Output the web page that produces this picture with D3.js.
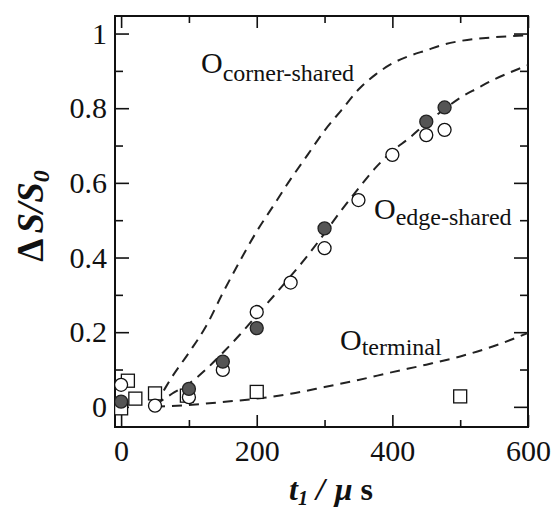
<!DOCTYPE html>
<html><head><meta charset="utf-8">
<script src="https://cdn.jsdelivr.net/npm/d3@7/dist/d3.min.js"></script></head>
<body style="margin:0">
<script>
// data (t in microseconds, dS/S0)
const openT   = [0, 50, 100, 150, 200, 250, 300, 350, 400, 450, 477];
const openV   = [0.059, 0.003, 0.026, 0.099, 0.254, 0.333, 0.425, 0.554, 0.675, 0.728, 0.742];
const filledT = [0, 100, 150, 200, 300, 450, 477];
const filledV = [0.014, 0.048, 0.121, 0.211, 0.478, 0.764, 0.802];
const squareT = [0, 10, 21, 50, 97, 200, 500];
const squareV = [-0.004, 0.07, 0.022, 0.036, 0.03, 0.04, 0.028];

// model curves (dashed)
const cornerT = [50, 60, 75, 100, 125, 150, 175, 200, 225, 250, 275, 300, 325, 350, 375, 400, 425, 450, 475, 500, 550, 600];
const cornerV = [0.005, 0.035, 0.08, 0.145, 0.215, 0.305, 0.39, 0.47, 0.54, 0.61, 0.675, 0.74, 0.795, 0.85, 0.89, 0.92, 0.94, 0.955, 0.97, 0.98, 0.99, 0.995];
const edgeT = [50, 75, 100, 125, 150, 175, 200, 225, 250, 275, 300, 325, 350, 375, 400, 425, 450, 475, 500, 525, 550, 575, 600];
const edgeV = [0.005, 0.035, 0.062, 0.1, 0.145, 0.193, 0.245, 0.297, 0.35, 0.405, 0.465, 0.527, 0.585, 0.64, 0.685, 0.72, 0.76, 0.795, 0.828, 0.853, 0.877, 0.897, 0.915];
const termT = [50, 100, 150, 200, 250, 300, 350, 400, 450, 500, 550, 600];
const termV = [0.0, 0.005, 0.013, 0.022, 0.035, 0.053, 0.072, 0.093, 0.113, 0.135, 0.163, 0.198];

const xMajor = [0, 200, 400, 600];
const xMinor = [100, 300, 500];
const yMajor = [0, 0.2, 0.4, 0.6, 0.8, 1];
const yMinor = [0.1, 0.3, 0.5, 0.7, 0.9];

const width = 558, height = 510;
const margin = {top: 16, right: 30, bottom: 83, left: 115};
const innerW = width - margin.left - margin.right;
const innerH = height - margin.top - margin.bottom;
const FONT = 'Liberation Serif';

const svg = d3.select('body').append('svg').attr('width', width).attr('height', height);
const g = svg.append('g').attr('transform', 'translate(' + margin.left + ',' + margin.top + ')');

const x = d3.scaleLinear().domain([-9, 600]).range([0, innerW]);
const y = d3.scaleLinear().domain([-0.054, 1.047]).range([innerH, 0]);

function serifText(sel, size) {
  return sel.attr('font-family', FONT).style('font-family', '"' + FONT + '"')
    .attr('font-size', size).attr('fill', '#111');
}

//axes with inward ticks on all four sides
function addAxis(axis, tr, vals, size, labels) {
  const a = g.append('g').attr('transform', tr)
    .call(axis.tickValues(vals).tickSize(-size).tickSizeOuter(0).tickPadding(labels ? 13 : 0)
      .tickFormat(labels ? d3.format('') : () => ''));
  a.attr('font-family', FONT).attr('font-size', 30);
  a.select('.domain').remove();
  a.selectAll('line').attr('stroke', '#111').attr('stroke-width', 1.6);
  serifText(a.selectAll('text'), 30);
  return a;
}
addAxis(d3.axisBottom(x), 'translate(0,' + innerH + ')', xMajor, 12, true);
addAxis(d3.axisBottom(x), 'translate(0,' + innerH + ')', xMinor, 7, false);
addAxis(d3.axisTop(x), 'translate(0,0)', xMajor, 12, false);
addAxis(d3.axisTop(x), 'translate(0,0)', xMinor, 7, false);
const yl = addAxis(d3.axisLeft(y), 'translate(0,0)', yMajor, 14, true);
yl.selectAll('text').attr('x', -8);
addAxis(d3.axisLeft(y), 'translate(0,0)', yMinor, 8, false);
addAxis(d3.axisRight(y), 'translate(' + innerW + ',0)', yMajor, 14, false);
addAxis(d3.axisRight(y), 'translate(' + innerW + ',0)', yMinor, 8, false);

g.append('rect').attr('width', innerW).attr('height', innerH)
  .attr('fill', 'none').attr('stroke', '#111').attr('stroke-width', 2);

svg.append('clipPath').attr('id', 'clip').append('rect').attr('width', innerW).attr('height', innerH);
const plot = g.append('g').attr('clip-path', 'url(#clip)');

//dashed curves
const line = d3.line().x(d => x(d[0])).y(d => y(d[1])).curve(d3.curveMonotoneX);
[[cornerT, cornerV], [edgeT, edgeV], [termT, termV]].forEach(([ts, vs]) => {
  plot.append('path').datum(ts.map((t, i) => [t, vs[i]]))
    .attr('d', line).attr('fill', 'none').attr('stroke', '#222')
    .attr('stroke-width', 2).attr('stroke-dasharray', '10,7');
});

//markers
const sq = 13;
plot.selectAll('rect.sq').data(squareT.map((t, i) => [t, squareV[i]])).enter()
  .append('rect').attr('class', 'sq')
  .attr('x', d => x(d[0]) - sq / 2).attr('y', d => y(d[1]) - sq / 2)
  .attr('width', sq).attr('height', sq)
  .attr('fill', '#fff').attr('stroke', '#111').attr('stroke-width', 1.3);
plot.selectAll('circle.op').data(openT.map((t, i) => [t, openV[i]])).enter()
  .append('circle').attr('class', 'op')
  .attr('cx', d => x(d[0])).attr('cy', d => y(d[1])).attr('r', 6.5)
  .attr('fill', '#fff').attr('stroke', '#111').attr('stroke-width', 1.3);
plot.selectAll('circle.fl').data(filledT.map((t, i) => [t, filledV[i]])).enter()
  .append('circle').attr('class', 'fl')
  .attr('cx', d => x(d[0])).attr('cy', d => y(d[1])).attr('r', 6.5)
  .attr('fill', '#555').attr('stroke', '#222').attr('stroke-width', 1.3);

//curve labels
function oLabel(px, py, sub, dy) {
  const t = serifText(svg.append('text').attr('x', px).attr('y', py), 30);
  t.append('tspan').text('O');
  t.append('tspan').attr('font-size', 24).attr('dy', dy).text(sub);
}
oLabel(201, 73, 'corner-shared', 8);
oLabel(374, 219, 'edge-shared', 6);
oLabel(340, 350, 'terminal', 5);

//axis titles
const xt = serifText(svg.append('text').attr('x', 331).attr('y', 500).attr('text-anchor', 'middle'), 32)
  .attr('font-weight', 'bold');
xt.append('tspan').attr('font-style', 'italic').text('t');
xt.append('tspan').attr('font-style', 'italic').attr('font-size', 20).attr('dy', 5).text('1');
xt.append('tspan').attr('font-style', 'italic').attr('dy', -5).attr('dx', 8).text('/');
xt.append('tspan').attr('font-style', 'italic').attr('dx', 10).text('\u03bc');
xt.append('tspan').attr('dx', 8).text('s');

const ylab = serifText(svg.append('text').attr('transform', 'translate(43,216) rotate(-90)')
  .attr('text-anchor', 'middle'), 37).attr('font-weight', 'bold');
ylab.append('tspan').text('\u0394');
ylab.append('tspan').attr('font-style', 'italic').attr('dx', 5).text('S/S');
ylab.append('tspan').attr('font-style', 'italic').attr('font-size', 24).attr('dy', 6).text('0');
</script>
</body>
</html>
